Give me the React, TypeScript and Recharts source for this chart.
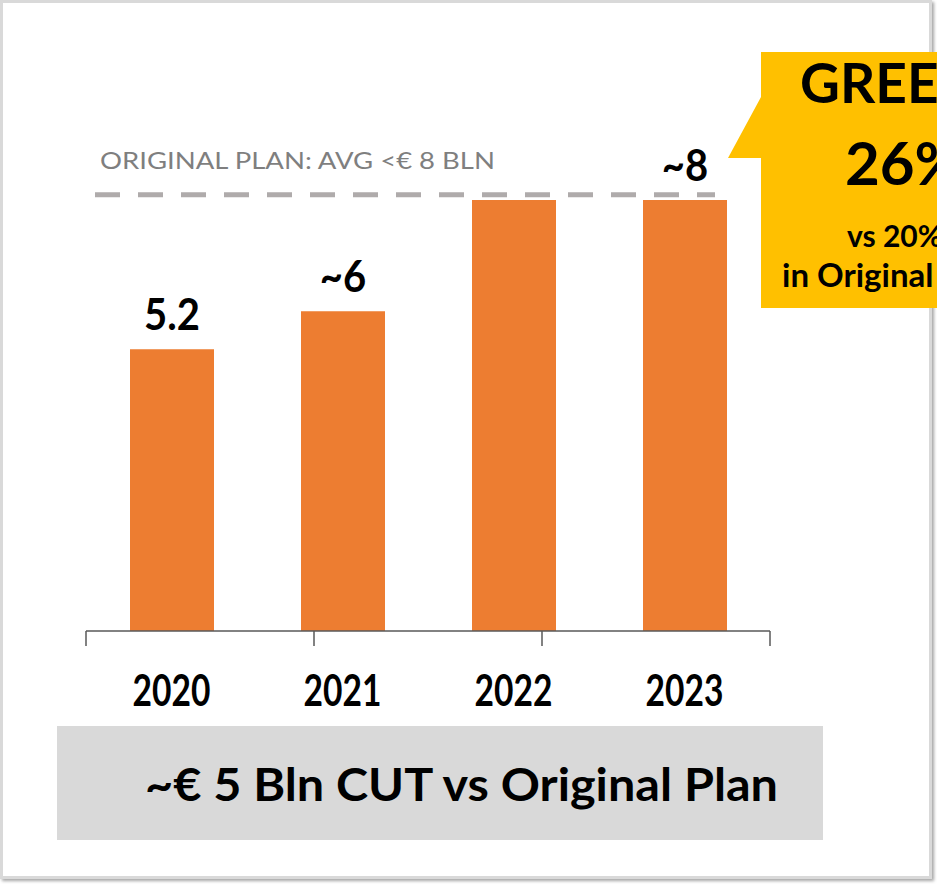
import React from "react";
import { Bar, BarChart, LabelList, ReferenceLine, XAxis, YAxis } from "recharts";

const YEARS = ["2020", "2021", "2022", "2023"];
const CAPEX = [5.2, 5.9, 7.95, 7.95];
const BAR_LABELS = ["5.2", "~6", "", "~8"];
const PLAN_AVG = 8.05;
const PLAN_TEXT = "ORIGINAL PLAN: AVG <€ 8 BLN";
const BOUNDARIES = [0, 1, 2, 3, 4];
const CALLOUT = ["GREEN", "26%", "vs 20%", "in Original Plan"];
const FOOTER = "~€ 5 Bln CUT vs Original Plan";

const BOLD = "Lato, 'Open Sans', sans-serif";
const ORANGE = "#ED7D31";
const AXIS = "#595959";

const data = YEARS.map((year, i) => ({ year, capex: CAPEX[i], label: BAR_LABELS[i] }));

// condensed bold text, like the stretched Calibri of the slide
function Squeezed({ x, y, sx, size, children }: any) {
  return (
    <text
      transform={`translate(${x},${y}) scale(${sx},1)`}
      textAnchor="middle"
      fontFamily={BOLD}
      fontWeight={700}
      fontSize={size}
      fill="#000"
    >
      {children}
    </text>
  );
}

function YearTick(props: any) {
  const { x, y, payload } = props;
  return (
    <Squeezed x={x} y={y + 66} sx={0.78} size={43}>
      {payload.value}
    </Squeezed>
  );
}

function NoTick() {
  return <g />;
}

function ValueLabel(props: any) {
  const { x, y, width, value } = props;
  if (!value) return null;
  return (
    <Squeezed x={x + width / 2} y={y - 19} sx={0.93} size={43}>
      {value}
    </Squeezed>
  );
}

function PlanLine(props: any) {
  const { x1, x2, y1 } = props;
  return (
    <g>
      <line x1={x1 + 9} x2={x2 - 55} y1={y1} y2={y1} stroke="#AFABAB" strokeWidth={5} strokeDasharray="25 18" />
      <text
        x={x1 + 14}
        y={y1 - 26}
        fontFamily="Lato, 'Open Sans', sans-serif"
        fontSize={24}
        fill="#7F7F7F"
        textLength={395}
        lengthAdjust="spacingAndGlyphs"
      >
        {PLAN_TEXT}
      </text>
    </g>
  );
}

export default function App() {
  return (
    <div style={{ position: "absolute", left: 0, top: 0, width: 937, height: 884, background: "#fff", overflow: "hidden" }}>
      <div
        style={{
          position: "absolute",
          left: 0,
          top: 0,
          width: 932,
          height: 879,
          border: "3px solid #D9D9D9",
          boxSizing: "border-box",
          boxShadow: "2px 2px 3px #A6A6A6",
        }}
      />
      <div style={{ position: "absolute", left: 0, top: 0 }}>
        <BarChart width={937} height={884} data={data} margin={{ top: 89, right: 167, bottom: 173, left: 86 }}>
          <XAxis
            xAxisId="a"
            type="number"
            domain={[0, 4]}
            ticks={BOUNDARIES}
            interval={0}
            tick={<NoTick />}
            tickSize={15}
            height={1}
            axisLine={{ stroke: AXIS, strokeWidth: 1.5 }}
            tickLine={{ stroke: AXIS, strokeWidth: 1.5 }}
          />
          <XAxis xAxisId="b" dataKey="year" height={79} axisLine={false} tickLine={false} tick={<YearTick />} />
          <YAxis hide domain={[0, 10]} />
          <ReferenceLine xAxisId="b" y={PLAN_AVG} shape={(p: any) => <PlanLine {...p} />} />
          <Bar xAxisId="b" dataKey="capex" fill={ORANGE} barSize={84} isAnimationActive={false}>
            <LabelList dataKey="label" content={<ValueLabel />} />
          </Bar>
        </BarChart>
      </div>
      <div
        style={{
          position: "absolute",
          left: 57,
          top: 726,
          width: 766,
          height: 114,
          background: "#D9D9D9",
        }}
      />
      <svg width={937} height={884} style={{ position: "absolute", left: 0, top: 0, pointerEvents: "none" }}>
        <text
          x={145}
          y={801}
          fontFamily={BOLD}
          fontWeight={700}
          fontSize={46}
          fill="#000"
          textLength={633}
          lengthAdjust="spacingAndGlyphs"
        >
          {FOOTER}
        </text>
        <polygon points="761,52 960,52 960,308 761,308 761,158 728,158 761,97" fill="#FFC000" />
        <text x={800} y={103} fontFamily={BOLD} fontWeight={700} fontSize={55} fill="#000">
          {CALLOUT[0]}
        </text>
        <text x={845} y={185} fontFamily={BOLD} fontWeight={700} fontSize={60} fill="#000">
          {CALLOUT[1]}
        </text>
        <text x={847} y={247} fontFamily={BOLD} fontWeight={700} fontSize={30} fill="#000">
          {CALLOUT[2]}
        </text>
        <text x={782} y={287} fontFamily={BOLD} fontWeight={700} fontSize={33} fill="#000">
          {CALLOUT[3]}
        </text>
      </svg>
    </div>
  );
}
